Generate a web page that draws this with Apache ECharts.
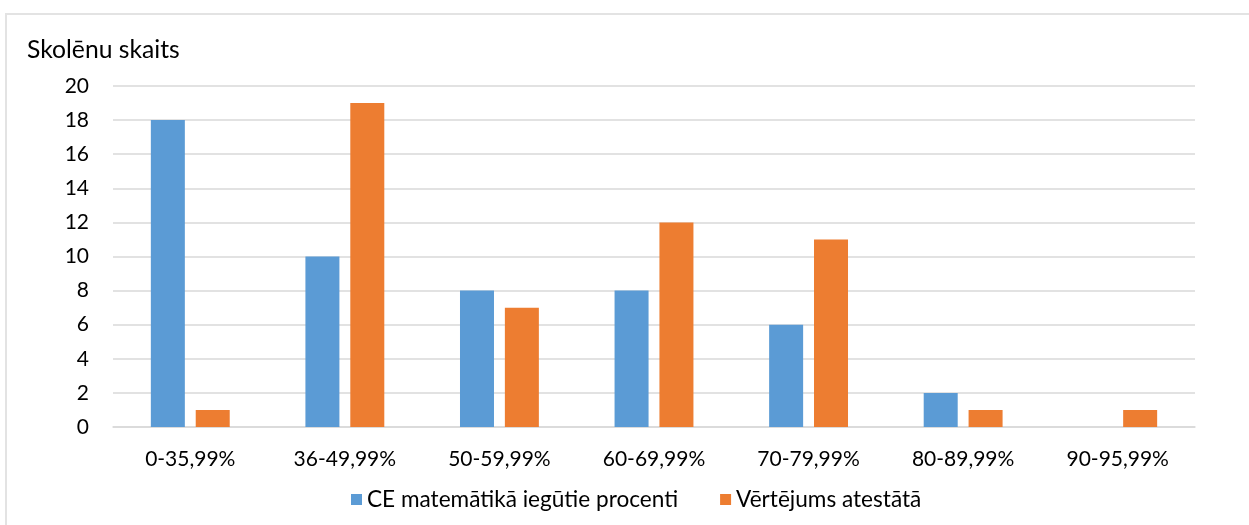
<!DOCTYPE html>
<html>
<head>
<meta charset="utf-8">
<script src="https://cdn.jsdelivr.net/npm/echarts@6/dist/echarts.min.js"></script>
<style>
  html, body { margin: 0; padding: 0; background: #fff; overflow: hidden; }
  #frame { position: absolute; left: 5px; top: 13px; width: 1260px; height: 530px; border: 2px solid #e3e3e3; box-sizing: border-box; }
  #chart { position: absolute; left: 0; top: 0; width: 1249px; height: 525px; }
</style>
</head>
<body>
<div id="frame"></div>
<div id="chart"></div>
<script>
const categories = ['0-35,99%', '36-49,99%', '50-59,99%', '60-69,99%', '70-79,99%', '80-89,99%', '90-95,99%'];
const seriesNames = ['CE matemātikā iegūtie procenti', 'Vērtējums atestātā'];
const ceValues = [18, 10, 8, 8, 6, 2, 0];
const atestatsValues = [1, 19, 7, 12, 11, 1, 1];
const yTitle = 'Skolēnu skaits';

const FONT = 'Lato, "Open Sans", sans-serif';
const chart = echarts.init(document.getElementById('chart'), null, { renderer: 'canvas' });
chart.setOption({
  animation: false,
  backgroundColor: 'transparent',
  textStyle: { fontFamily: FONT, color: '#000' },
  title: {
    text: yTitle,
    left: 27, top: 38, padding: 0,
    textStyle: { fontFamily: FONT, fontSize: 24.7, fontWeight: 'normal', color: '#000' }
  },
  legend: {
    data: seriesNames,
    left: 346, top: 483,
    itemWidth: 11, itemHeight: 11, itemGap: 42,
    icon: 'rect',
    textStyle: { fontFamily: FONT, fontSize: 22.6, color: '#000' }
  },
  grid: { left: 113, right: 54, top: 86, bottom: 98, containLabel: false },
  xAxis: {
    type: 'category',
    data: categories,
    axisLine: { show: true, lineStyle: { color: '#d9d9d9', width: 1.5 } },
    axisTick: { show: false },
    axisLabel: { margin: 22, fontFamily: FONT, fontSize: 21, color: '#000' }
  },
  yAxis: {
    type: 'value',
    min: 0, max: 20, interval: 2,
    axisLine: { show: false },
    axisTick: { show: false },
    splitLine: { lineStyle: { color: '#d9d9d9', width: 1.5 } },
    axisLabel: { margin: 24, fontFamily: FONT, fontSize: 21, color: '#000' }
  },
  series: [
    { name: seriesNames[0], type: 'bar', data: ceValues, barWidth: 34, barGap: '32%',
      itemStyle: { color: '#5B9BD5' } },
    { name: seriesNames[1], type: 'bar', data: atestatsValues, barWidth: 34, barGap: '32%',
      itemStyle: { color: '#ED7D31' } }
  ]
});
</script>
</body>
</html>
